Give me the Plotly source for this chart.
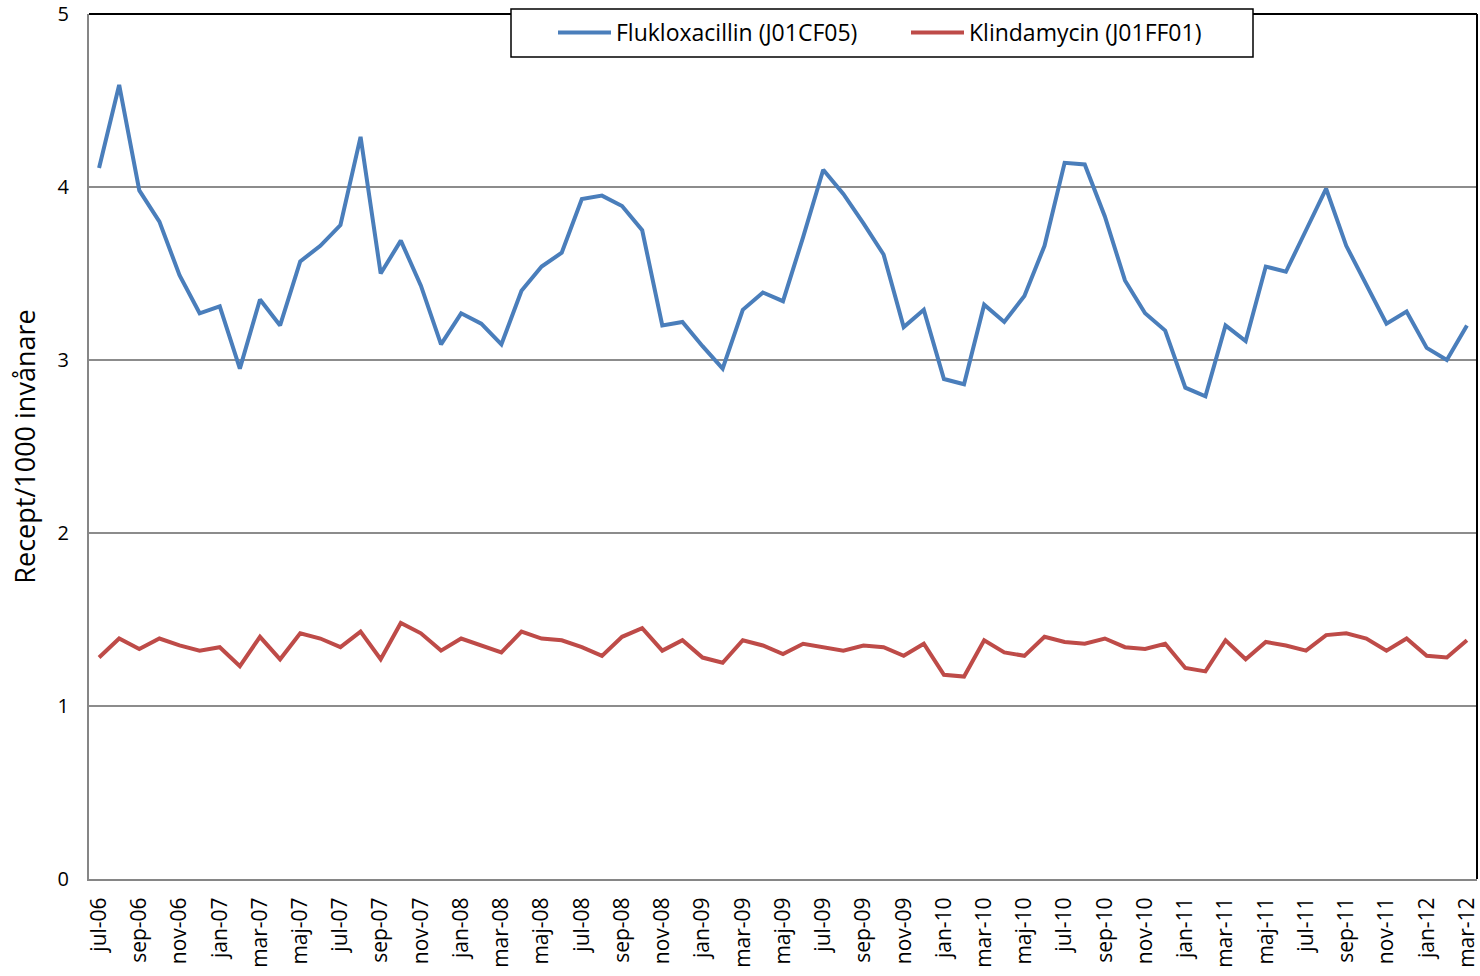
import plotly.graph_objects as go

months = ["jul", "aug", "sep", "okt", "nov", "dec", "jan", "feb", "mar", "apr", "maj", "jun"]
labels = []
year = 6
for i in range(69):
    m = months[i % 12]
    if m == "jan" and i > 0:
        year += 1
    labels.append(f"{m}-{year:02d}")

fluklox = [
    4.11, 4.59, 3.98, 3.80, 3.49, 3.27, 3.31, 2.95, 3.35, 3.20, 3.57, 3.66,
    3.78, 4.29, 3.50, 3.69, 3.43, 3.09, 3.27, 3.21, 3.09, 3.40, 3.54, 3.62,
    3.93, 3.95, 3.89, 3.75, 3.20, 3.22, 3.08, 2.95, 3.29, 3.39, 3.34, 3.71,
    4.10, 3.96, 3.79, 3.61, 3.19, 3.29, 2.89, 2.86, 3.32, 3.22, 3.37, 3.66,
    4.14, 4.13, 3.83, 3.46, 3.27, 3.17, 2.84, 2.79, 3.20, 3.11, 3.54, 3.51,
    3.75, 3.99, 3.66, 3.43, 3.21, 3.28, 3.07, 3.00, 3.20,
]

klinda = [
    1.28, 1.39, 1.33, 1.39, 1.35, 1.32, 1.34, 1.23, 1.40, 1.27, 1.42, 1.39,
    1.34, 1.43, 1.27, 1.48, 1.42, 1.32, 1.39, 1.35, 1.31, 1.43, 1.39, 1.38,
    1.34, 1.29, 1.40, 1.45, 1.32, 1.38, 1.28, 1.25, 1.38, 1.35, 1.30, 1.36,
    1.34, 1.32, 1.35, 1.34, 1.29, 1.36, 1.18, 1.17, 1.38, 1.31, 1.29, 1.40,
    1.37, 1.36, 1.39, 1.34, 1.33, 1.36, 1.22, 1.20, 1.38, 1.27, 1.37, 1.35,
    1.32, 1.41, 1.42, 1.39, 1.32, 1.39, 1.29, 1.28, 1.38,
]

x = list(range(len(labels)))
font = "Open Sans, Liberation Sans, sans-serif"

fig = go.Figure()
fig.add_trace(go.Scatter(x=x, y=fluklox, mode="lines", name="Flukloxacillin (J01CF05)",
                         line=dict(color="#4A7EBB", width=4)))
fig.add_trace(go.Scatter(x=x, y=klinda, mode="lines", name="Klindamycin (J01FF01)",
                         line=dict(color="#BE4B48", width=4)))

W, H = 1480, 976
L, R, T, B = 89, 3, 14, 97
pw, ph = W - L - R, H - T - B

def px(xp):
    return (xp - L) / pw

def py(yp):
    return (H - B - yp) / ph

fig.update_layout(
    width=W,
    height=H,
    margin=dict(l=L, r=R, t=T, b=B, autoexpand=False),
    paper_bgcolor="white",
    plot_bgcolor="white",
    font=dict(family=font, size=20, color="black"),
    showlegend=True,
    legend=dict(
        orientation="h",
        x=px(553), y=py(11), xanchor="left", yanchor="top",
        borderwidth=0, bgcolor="rgba(0,0,0,0)",
        font=dict(size=23),
        itemwidth=53,
        entrywidth=285,
    ),
    xaxis=dict(
        range=[-0.5, 68.5],
        tickvals=x[::2],
        ticktext=labels[::2],
        tickangle=-90,
        showgrid=False,
        showline=True,
        linecolor="#868686",
        linewidth=2,
        ticks="",
        ticklabelstandoff=8,
        tickfont=dict(size=21),
        zeroline=False,
    ),
    yaxis=dict(
        range=[0, 5],
        dtick=1,
        showgrid=True,
        gridcolor="#8c8c8c",
        gridwidth=1.5,
        showline=True,
        linecolor="#868686",
        linewidth=2,
        ticks="",
        ticklabelstandoff=14,
        tickfont=dict(size=20),
        zeroline=False,
        title=dict(text="Recept/1000 invånare", font=dict(size=27), standoff=14),
    ),
)

# black top and right border of the plot area
fig.add_shape(type="line", xref="paper", yref="paper", x0=0, x1=1, y0=1, y1=1,
              line=dict(color="black", width=2))
fig.add_shape(type="line", xref="paper", yref="paper", x0=1, x1=1, y0=0, y1=1,
              line=dict(color="black", width=2))
# legend box
fig.add_shape(type="rect", xref="paper", yref="paper",
              x0=px(511), x1=px(1253), y0=py(57), y1=py(9),
              line=dict(color="black", width=1.5), fillcolor="white", layer="above")

fig.write_html("out.html", config={"displayModeBar": False},
               post_script="document.body.style.margin='0';")
